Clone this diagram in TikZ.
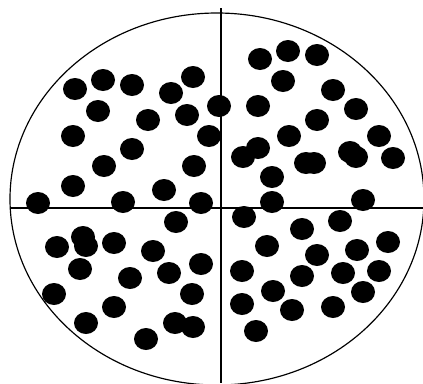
\documentclass[tikz,border=0pt]{standalone}
\usepackage{tikz}

\begin{document}
\begin{tikzpicture}[
    x=0.03cm, y=-0.03cm,
    rim/.style={draw, line width=1pt},
    axis/.style={draw, line width=1pt},
    dot/.style={fill=black}
]
\useasboundingbox (0,0) rectangle (423,383);

% outer boundary and the two cut lines
\draw[rim] (217,199) ellipse [x radius=6.21cm, y radius=5.58cm];
\coordinate (vtop) at (221,8);
\coordinate (vbot) at (221,383);
\coordinate (hleft) at (10,208);
\coordinate (hright) at (423,208);
\draw[axis] (vtop) -- (vbot);
\draw[axis] (hleft) -- (hright);

% dots
\foreach \px/\py in {
    75/89, 103/80, 132/85, 193/77, 171/93, 98/111, 148/120, 187/115,
    219/106, 73/136, 209/136, 132/149, 104/166, 194/166, 73/186,
    38/203, 123/202, 164/190, 201/203,
    260/59, 288/51, 317/55, 283/81, 333/90, 356/109, 258/106,
    289/136, 317/120, 258/148, 243/157, 306/163, 314/163,
    350/152, 356/157, 379/136, 393/158, 272/177, 272/202, 363/200,
    57/247, 83/237, 86/246, 114/243, 80/269, 153/251, 176/222,
    130/278, 169/273, 201/264, 54/294, 192/294, 114/307, 86/323,
    146/339, 175/323, 193/327,
    244/217, 302/229, 340/221, 267/246, 317/255, 357/250, 388/242,
    242/271, 302/276, 343/273, 379/271, 273/291, 363/292, 242/304,
    292/310, 333/307, 256/331}
  \fill[dot] (\px,\py) ellipse [x radius=0.36cm, y radius=0.33cm];
\end{tikzpicture}
\end{document}
